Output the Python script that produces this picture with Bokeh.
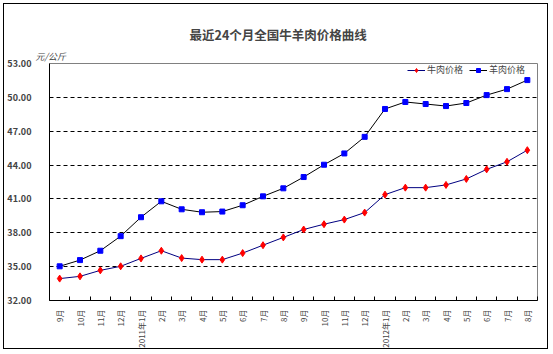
import math
from bokeh.plotting import figure
from bokeh.models import (FixedTicker, NumeralTickFormatter, Legend, LegendItem, Range1d, Title)
from bokeh.embed import file_html
from bokeh.resources import INLINE

months = ["9月", "10月", "11月", "12月", "2011年1月", "2月", "3月", "4月", "5月", "6月",
          "7月", "8月", "9月", "10月", "11月", "12月", "2012年1月", "2月", "3月", "4月",
          "5月", "6月", "7月", "8月"]
beef = [33.94, 34.14, 34.67, 35.03, 35.73, 36.41, 35.76, 35.62, 35.62, 36.20, 36.90, 37.59,
        38.29, 38.76, 39.17, 39.79, 41.38, 42.00, 42.00, 42.24, 42.77, 43.62, 44.29, 45.32]
mutton = [35.03, 35.58, 36.41, 37.70, 39.38, 40.79, 40.08, 39.82, 39.88, 40.44, 41.23, 41.94,
          42.94, 44.03, 45.03, 46.50, 48.97, 49.59, 49.41, 49.23, 49.50, 50.20, 50.73, 51.53]
y_ticks = [32, 35, 38, 41, 44, 47, 50, 53]
grid_ticks = [35, 38, 41, 44, 47, 50]

FONT = "Noto Sans CJK SC"
n = len(months)
xs = [i + 0.5 for i in range(n)]

p = figure(width=545, height=346, output_backend="svg", toolbar_location=None,
           x_range=Range1d(0, n), y_range=Range1d(32, 53),
           min_border_left=36, min_border_right=12, min_border_top=59, min_border_bottom=49)
p.margin = (3, 0, 0, 3)
p.styles = {"border": "1px solid black"}

p.title.text = "最近24个月全国牛羊肉价格曲线"
p.title.align = "left"
p.title.offset = 140
p.title.text_font = FONT
p.title.text_font_size = "12.5px"
p.title.text_font_style = "bold"
p.title.standoff = 6

p.background_fill_color = "white"
p.border_fill_color = "white"
p.outline_line_color = "#808080"
p.outline_line_width = 1

# x axis
p.xaxis.ticker = FixedTicker(ticks=xs, minor_ticks=list(range(n + 1)))
p.xaxis.major_label_overrides = {x: m for x, m in zip(xs, months)}
p.xaxis.major_label_orientation = math.pi / 2
p.xaxis.major_tick_line_color = None
p.xaxis.minor_tick_in = 4
p.xaxis.minor_tick_out = 0
p.xaxis.minor_tick_line_color = "black"
p.xaxis.axis_line_color = "black"
p.xaxis.major_label_text_font = FONT
p.xaxis.major_label_text_font_size = "8px"
p.xaxis.major_label_standoff = 3

# y axis
p.yaxis.ticker = FixedTicker(ticks=y_ticks)
p.yaxis.formatter = NumeralTickFormatter(format="0.00")
p.yaxis.major_tick_line_color = None
p.yaxis.minor_tick_line_color = None
p.yaxis.axis_line_color = "black"
p.yaxis.major_label_text_font = FONT
p.yaxis.major_label_text_font_size = "9px"
p.yaxis.major_label_text_font_style = "bold"
p.yaxis.major_label_standoff = 12

p.xgrid.grid_line_color = None
p.ygrid.ticker = FixedTicker(ticks=grid_ticks)
p.ygrid.grid_line_color = "black"
p.ygrid.grid_line_dash = "4 3"
p.ygrid.grid_line_width = 1

l1 = p.line(xs, beef, line_color="#000080", line_width=1)
m1 = p.scatter(xs, beef, marker="diamond", size=7, fill_color="red", line_color="red")
l2 = p.line(xs, mutton, line_color="black", line_width=1)
m2 = p.scatter(xs, mutton, marker="square", size=5, fill_color="#0000FF", line_color="#0000FF")

legend = Legend(items=[LegendItem(label="牛肉价格", renderers=[l1, m1]),
                       LegendItem(label="羊肉价格", renderers=[l2, m2])],
                location=(358, 224), orientation="horizontal",
                padding=0, margin=0, spacing=6, label_standoff=2,
                glyph_width=18, glyph_height=10, label_height=10,
                label_text_font=FONT, label_text_font_size="9px",
                border_line_color=None, background_fill_alpha=0)
p.add_layout(legend, "center")

unit = Title(text="元/公斤", align="left", offset=-14, standoff=2,
             text_font=FONT, text_font_size="9px", text_font_style="italic")
p.add_layout(unit, "above")

open("out.html", "w").write(file_html(p, INLINE))
